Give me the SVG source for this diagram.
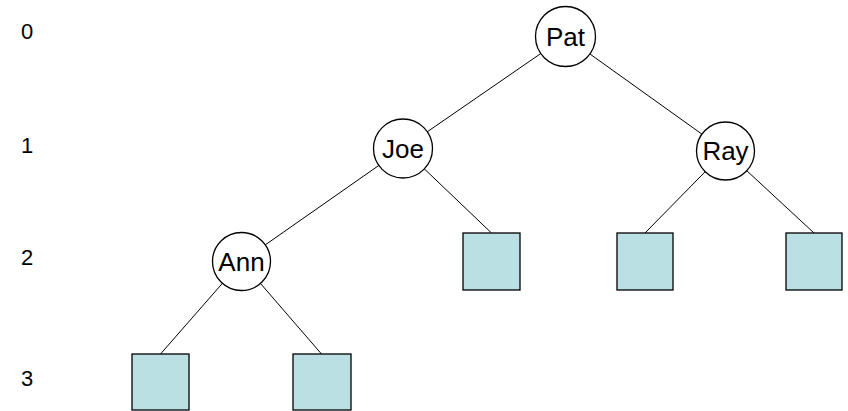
<svg xmlns="http://www.w3.org/2000/svg" width="848" height="411" viewBox="0 0 848 411">
<style>
.edge{stroke:#000;stroke-width:1;fill:none}
.node circle{fill:#fff;stroke:#000;stroke-width:1.3}
.leaf rect{fill:#BBE0E3;stroke:#000;stroke-width:1.3}
.lbl{font-family:"Liberation Sans",Arial,sans-serif;font-size:26px;fill:#000;text-anchor:middle}
.lvl{font-family:"Liberation Sans",Arial,sans-serif;font-size:22px;fill:#000;text-anchor:middle}
</style>
<rect width="848" height="411" fill="#fff"/>
<g id="levels">
<text class="lvl" x="27" y="39">0</text>
<text class="lvl" x="27" y="153">1</text>
<text class="lvl" x="27" y="265">2</text>
<text class="lvl" x="27" y="386">3</text>
</g>
<g id="connectors">
<line class="edge" x1="565.5" y1="36.5" x2="403" y2="148.5"/>
<line class="edge" x1="565.5" y1="36.5" x2="725.5" y2="151"/>
<line class="edge" x1="403" y1="148.5" x2="241.5" y2="261.5"/>
<line class="edge" x1="403" y1="148.5" x2="491.5" y2="233"/>
<line class="edge" x1="725.5" y1="151" x2="645" y2="233"/>
<line class="edge" x1="725.5" y1="151" x2="814" y2="233"/>
<line class="edge" x1="241.5" y1="261.5" x2="160.5" y2="354"/>
<line class="edge" x1="241.5" y1="261.5" x2="321.5" y2="354"/>
</g>
<g id="pat" class="node"><circle cx="565.5" cy="36.5" r="30"/><text class="lbl" x="565.5" y="45.5">Pat</text></g>
<g id="joe" class="node"><circle cx="403" cy="148.5" r="29.5"/><text class="lbl" x="403" y="157.5">Joe</text></g>
<g id="ray" class="node"><circle cx="725.5" cy="151" r="29"/><text class="lbl" x="725.5" y="160">Ray</text></g>
<g id="ann" class="node"><circle cx="241.5" cy="261.5" r="29"/><text class="lbl" x="241.5" y="270.5">Ann</text></g>
<g id="leaf1" class="leaf"><rect x="463" y="233" width="57" height="57"/></g>
<g id="leaf2" class="leaf"><rect x="617" y="233" width="56" height="57"/></g>
<g id="leaf3" class="leaf"><rect x="786" y="233" width="56" height="57"/></g>
<g id="leaf4" class="leaf"><rect x="132" y="354" width="57" height="56"/></g>
<g id="leaf5" class="leaf"><rect x="293" y="354" width="58" height="56"/></g>
</svg>
